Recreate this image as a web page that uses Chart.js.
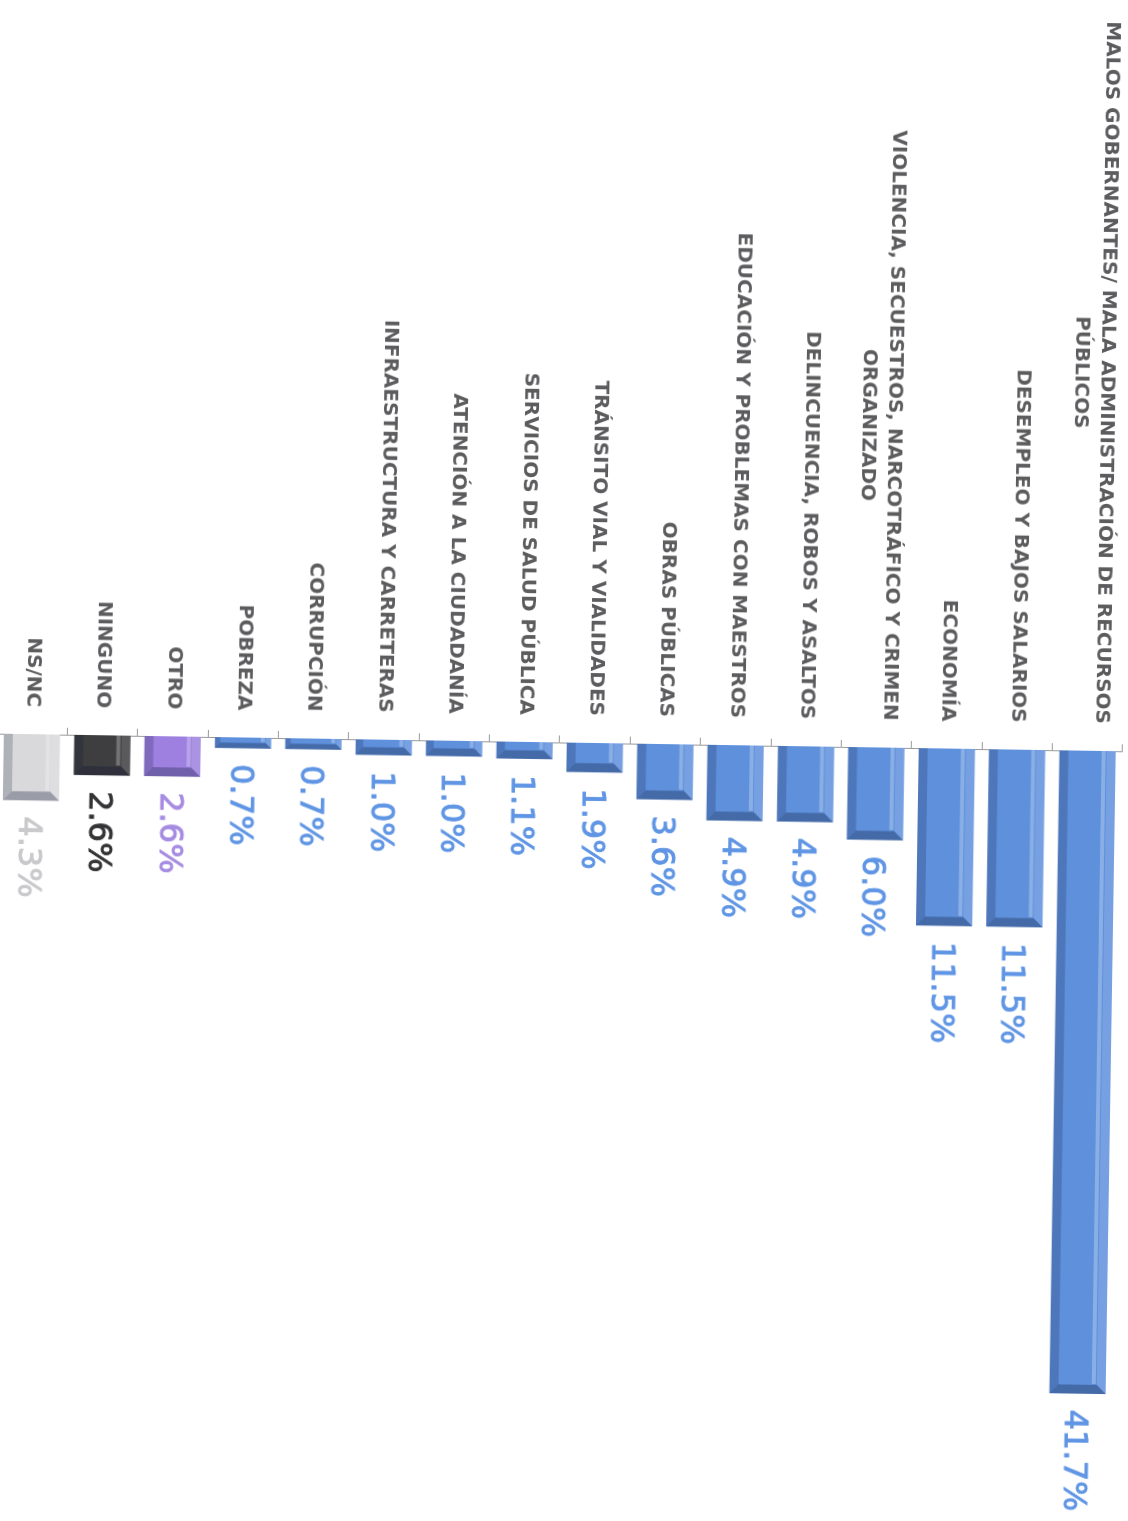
<!DOCTYPE html>
<html>
<head>
<meta charset="utf-8">
<script src="https://cdn.jsdelivr.net/npm/chart.js@4.4.1/dist/chart.umd.min.js"></script>
<style>
html, body { margin: 0; padding: 0; background: #fff; width: 1128px; height: 1521px; overflow: hidden; }
/* the scan is the chart turned a quarter turn clockwise (plus a little skew) */
#wrap { position: absolute; left: -198px; top: 190.5px; width: 1521px; height: 1140px;
        transform: rotate(90.9deg); transform-origin: 50% 50%; }
</style>
</head>
<body>
<div id="wrap"><canvas id="myChart" width="1521" height="1140"></canvas></div>
<script>
const categories = [
    ['MALOS GOBERNANTES/ MALA ADMINISTRACIÓN DE RECURSOS', 'PÚBLICOS'],
    ['DESEMPLEO Y BAJOS SALARIOS'],
    ['ECONOMÍA'],
    ['VIOLENCIA, SECUESTROS, NARCOTRÁFICO Y CRIMEN', 'ORGANIZADO'],
    ['DELINCUENCIA, ROBOS Y ASALTOS'],
    ['EDUCACIÓN Y PROBLEMAS CON MAESTROS'],
    ['OBRAS PÚBLICAS'],
    ['TRÁNSITO VIAL Y VIALIDADES'],
    ['SERVICIOS DE SALUD PÚBLICA'],
    ['ATENCIÓN A LA CIUDADANÍA'],
    ['INFRAESTRUCTURA Y CARRETERAS'],
    ['CORRUPCIÓN'],
    ['POBREZA'],
    ['OTRO'],
    ['NINGUNO'],
    ['NS/NC']
];
const values = [41.7, 11.5, 11.5, 6.0, 4.9, 4.9, 3.6, 1.9, 1.1, 1.0, 1.0, 0.7, 0.7, 2.6, 2.6, 4.3];

const BLUE = '#5e90dc';
const barColors = categories.map((c, i) => i === 13 ? '#9d80e0' : i === 14 ? '#3e3e40' : i === 15 ? '#d9d9db' : BLUE);
const valueColors = categories.map((c, i) => i === 13 ? '#a68be2' : i === 14 ? '#333335' : i === 15 ? '#c9c9cc' : '#5f95e4');

// category names, centred on each tick, block right aligned against the axis
const catLabels = {
    id: 'catLabels',
    afterDraw(chart) {
        const ctx = chart.ctx;
        const ys = chart.scales.y;
        const right = chart.chartArea.left - 27;
        ctx.save();
        ctx.font = 'bold 20px "DejaVu Sans"';
        ctx.fillStyle = '#5c5c5f';
        ctx.textAlign = 'center';
        ctx.textBaseline = 'middle';
        categories.forEach((lines, i) => {
            const w = Math.max(...lines.map(l => ctx.measureText(l).width));
            const cx = right - w / 2;
            const yc = ys.getPixelForValue(i);
            const lh = 26;
            lines.forEach((l, k) => {
                ctx.fillText(l, cx, yc + (k - (lines.length - 1) / 2) * lh);
            });
        });
        ctx.restore();
    }
};

// bevel on the bars and the value after each one
const barExtras = {
    id: 'barExtras',
    afterDatasetsDraw(chart) {
        const ctx = chart.ctx;
        const meta = chart.getDatasetMeta(0);
        ctx.save();
        meta.data.forEach((bar, i) => {
            const p = bar.getProps(['x', 'y', 'base', 'height'], true);
            const L = Math.min(p.base, p.x), R = Math.max(p.base, p.x);
            const T = p.y - p.height / 2, B = p.y + p.height / 2;
            const b = Math.min(9, (R - L) / 2);
            ctx.fillStyle = 'rgba(255,255,255,0.15)';
            ctx.beginPath();
            ctx.moveTo(L, T); ctx.lineTo(R, T); ctx.lineTo(R - b, T + b); ctx.lineTo(L, T + b);
            ctx.fill();
            ctx.fillStyle = 'rgba(255,255,255,0.28)';
            ctx.fillRect(L, T + b + 1, Math.max(0, R - L - b - 1), 4);
            ctx.fillStyle = 'rgba(10,20,50,0.2)';
            ctx.beginPath();
            ctx.moveTo(L, B); ctx.lineTo(R, B); ctx.lineTo(R - b, B - b); ctx.lineTo(L, B - b);
            ctx.fill();
            ctx.fillStyle = 'rgba(10,20,50,0.3)';
            ctx.beginPath();
            ctx.moveTo(R, T); ctx.lineTo(R, B); ctx.lineTo(R - b, B - b); ctx.lineTo(R - b, T + b);
            ctx.fill();

            ctx.font = '32px "DejaVu Sans"';
            ctx.fillStyle = valueColors[i];
            ctx.strokeStyle = valueColors[i];
            ctx.lineWidth = 0.9;
            ctx.textAlign = 'left';
            ctx.textBaseline = 'middle';
            const txt = values[i].toFixed(1) + '%';
            ctx.fillText(txt, R + 16, p.y + 3);
            ctx.strokeText(txt, R + 16, p.y + 3);
        });
        ctx.restore();
    }
};

const ctx = document.getElementById('myChart').getContext('2d');
const myChart = new Chart(ctx, {
    type: 'bar',
    data: {
        labels: categories,
        datasets: [{
            data: values,
            backgroundColor: barColors,
            borderWidth: 0,
            barPercentage: 0.8,
            categoryPercentage: 1
        }]
    },
    options: {
        indexAxis: 'y',
        responsive: false,
        animation: false,
        layout: { padding: { top: 10, bottom: 4, left: 0, right: 8 } },
        scales: {
            x: { display: false, min: 0, max: 50 },
            y: {
                offset: true,
                grid: { offset: true, drawOnChartArea: false, drawTicks: true, tickLength: 7, color: '#9a9a9a' },
                border: { display: true, color: '#9a9a9a', width: 1 },
                ticks: { display: false },
                afterFit: function(scale) { scale.width = 742; }
            }
        },
        plugins: {
            legend: { display: false },
            tooltip: { enabled: false }
        }
    },
    plugins: [catLabels, barExtras]
});
</script>
</body>
</html>
